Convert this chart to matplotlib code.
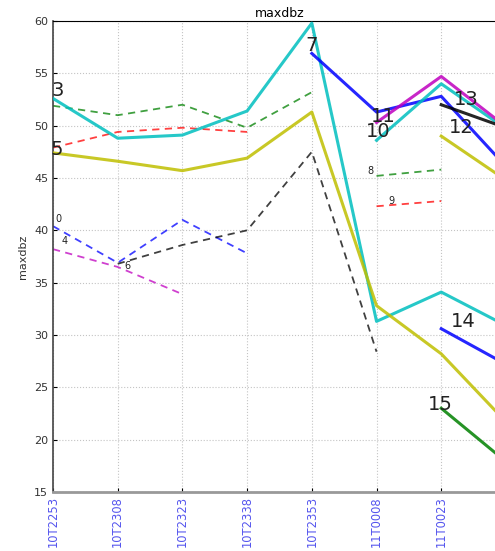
import numpy as np
import matplotlib
matplotlib.use('Agg')
import matplotlib.pyplot as plt

nan = np.nan

times = ['10T2253', '10T2308', '10T2323', '10T2338', '10T2353',
         '11T0008', '11T0023', '11T0038']

s0 = [40.4, 36.9, 41.0, 37.8, nan, nan, nan, nan]
s1 = [51.9, 51.0, 52.0, 49.8, 53.2, nan, nan, nan]
s2 = [47.9, 49.4, 49.8, 49.4, nan, nan, nan, nan]
s3 = [52.6, 48.8, 49.1, 51.4, 59.8, 31.3, 34.1, 30.9]
s4 = [38.2, 36.5, 33.9, nan, nan, nan, nan, nan]
s5 = [47.4, 46.6, 45.7, 46.9, 51.3, 32.8, 28.2, 21.7]
s6 = [nan, 36.8, 38.6, 40.0, 47.5, 28.4, nan, nan]
s7 = [nan, nan, nan, nan, 56.9, 51.3, 52.8, 46.1]
s8 = [nan, nan, nan, nan, nan, 45.2, 45.8, nan]
s9 = [nan, nan, nan, nan, nan, 42.3, 42.8, nan]
s10 = [nan, nan, nan, nan, nan, 48.6, 54.0, 49.7]
s11 = [nan, nan, nan, nan, nan, 50.3, 54.7, 49.9]
s12 = [nan, nan, nan, nan, nan, nan, 49.0, 44.8]
s13 = [nan, nan, nan, nan, nan, nan, 52.0, 49.8]
s14 = [nan, nan, nan, nan, nan, nan, 30.6, 27.2]
s15 = [nan, nan, nan, nan, nan, nan, 23.0, 17.9]

series = [s0, s1, s2, s3, s4, s5, s6, s7, s8, s9, s10, s11, s12, s13, s14, s15]
colors = ['b', 'g', 'r', 'c', 'm', 'y', 'k', 'b',
          'g', 'r', 'c', 'm', 'y', 'k', 'b', 'g']
dashed = [True, True, True, False, True, False, True, False,
          True, True, False, False, False, False, False, False]
# label offsets (pixels) from the first point of each track
lab_off = [(2, 4), (0, 0), (0, 0), (-2, 2), (9, 5), (-3, -2), (7, -5), (-6, 2),
           (-9, 2), (12, 2), (-11, 3), (-6, 1), (8, 3), (13, 0), (10, 2), (-13, -2)]

plt.rcParams['font.family'] = 'DejaVu Sans'
fig = plt.figure(figsize=(4.95, 5.51), dpi=100)
fig.patch.set_facecolor('white')
ax = fig.add_axes([0.1071, 0.1071, 0.915, 0.8548])

x = np.arange(len(times))
for i, s in enumerate(series):
    y = np.array(s, dtype=float)
    if dashed[i]:
        ax.plot(x, y, color=colors[i], lw=1.3, ls=(0, (4, 3)), alpha=0.75, zorder=2)
    else:
        ax.plot(x, y, color=colors[i], lw=2.2, alpha=0.85, zorder=3)
    # tracks 1 and 2 have their labels hidden under the others
    if i in (1, 2):
        continue
    first = np.where(~np.isnan(y))[0][0]
    fs = 7 if dashed[i] else 14
    ax.annotate(str(i), (x[first], y[first]), xytext=lab_off[i],
                textcoords='offset pixels', fontsize=fs, color='#222222',
                ha='left', va='baseline', zorder=5)

ax.set_xlim(0, 7)
ax.set_ylim(15, 60)
ax.set_xticks(x)
ax.set_xticklabels(times, rotation=90, fontsize=8.3, color='#5555ee')
ax.set_yticks(np.arange(15, 61, 5))
ax.tick_params(axis='y', labelsize=8, labelcolor='#333333', length=3, direction='in')
ax.tick_params(axis='x', length=3, direction='in', pad=3)
ax.grid(True, ls=':', color='#c4c4c4', lw=0.8)
ax.set_title('maxdbz', fontsize=9, pad=3)
ax.set_ylabel('maxdbz', fontsize=8, color='#333333', labelpad=4)
ax.spines['bottom'].set_color('#999999')
ax.spines['bottom'].set_linewidth(2.0)
ax.spines['left'].set_color('#444444')
ax.spines['left'].set_linewidth(1.2)

plt.savefig('out.png', dpi=100, facecolor='white')
